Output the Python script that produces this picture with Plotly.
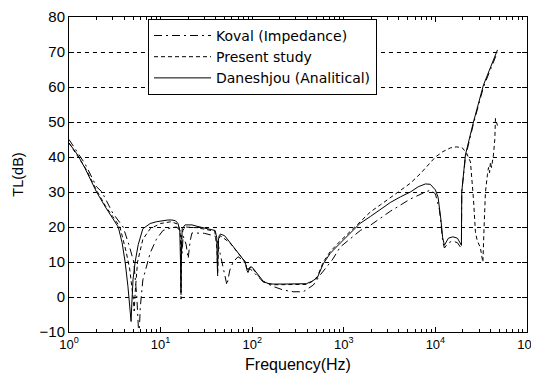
import plotly.graph_objects as go

# Daneshjou (Analitical) - solid
dan_f = [1, 1.25, 1.5, 2, 2.5, 3, 3.45, 3.8, 4.1, 4.4,
         4.65, 4.76, 4.85, 5.0, 5.27, 5.7, 6.4, 7.7, 9, 10.5,
         12, 13.3, 14.5, 15.5, 16.2, 16.5, 16.7, 16.9, 17.2, 18.5,
         22, 25, 30, 35, 39.4, 41, 41.8, 42.6, 43.6, 45,
         50, 57.5, 68, 78, 84, 88, 90, 95, 100, 115,
         132, 150, 169, 220, 300, 390, 450, 514, 597, 712,
         916, 1200, 1500, 1950, 2500, 3220, 4140, 5330, 6500, 7780,
         8800, 10000, 10700, 11060, 11500, 12000, 12540, 13870, 15500, 17400,
         18500, 19230, 19400, 21270, 26030, 33500, 47600]
dan_tl = [44, 40.5, 36.7, 30, 25.7, 22.5, 20, 15.5, 10, 3,
          -4, -7, -2, 5, 10, 15, 19.5, 21, 21.5, 21.8,
          22, 22, 21.8, 21, 19, 10, 1.4, 12, 19.5, 20.6,
          20.6, 20.2, 19.7, 19.3, 19, 17, 7, 16, 17.5, 18,
          17.5, 15.5, 13, 11, 10, 7.5, 7, 8.6, 8.5, 6.5,
          4.5, 3.8, 3.7, 3.7, 3.7, 3.8, 4.5, 5.5, 9.5, 12.5,
          15.4, 18.5, 21, 23, 25, 27, 28.6, 30, 31.5, 32.3,
          32.2, 30.6, 28.5, 25.7, 22, 17, 14.8, 16.8, 17.2, 16.8,
          15.8, 14.8, 30, 40.6, 50, 60.6, 70.6]

# Koval (Impedance) - dash-dot
kov_f = [1, 1.5, 2, 2.29, 3, 3.9, 4.5, 5.1, 5.5, 5.8,
         6.0, 6.4, 7.7, 9, 10.6, 13, 15, 16.2, 16.6, 17.2,
         17.6, 19, 20, 21, 22, 30, 38, 41, 45, 50,
         53, 57, 62, 70, 80, 88, 95, 100, 130, 170,
         218, 280, 361, 464, 553, 748, 916, 1514, 1950, 3220,
         5330, 7780, 8800, 10000, 11060, 11500, 12000, 12540, 13870, 15500,
         17400, 18500, 19230, 19400, 21270, 26030, 33500, 47600]
kov_tl = [45, 38, 31.5, 30, 24, 20, 15, 10, 0, -12,
          -3, 4.9, 12.6, 16.5, 19, 19.8, 20, 19, 18, 12.5,
          17.5, 15, 11, 16, 18.3, 18.2, 17.5, 17, 12, 6,
          3.4, 7.7, 10, 11.5, 10.5, 8, 8, 7.5, 4.5, 3,
          2, 1.5, 1.5, 3.4, 6.3, 10.6, 14.3, 19, 20.5, 24.5,
          28, 30, 30.5, 29.5, 25, 21, 16, 14, 15.5, 16,
          15.5, 14.5, 14, 30, 40, 49.5, 60, 70]

# Present study - dotted
pre_f = [1, 1.5, 2, 2.5, 3, 3.6, 4.2, 4.6, 5.0, 5.15,
         5.3, 5.6, 6.4, 7.7, 10, 13, 15.5, 16.2, 16.5, 16.7,
         16.9, 17.5, 18.5, 25, 39, 41.2, 42, 43, 45, 57,
         68, 84, 88, 95, 100, 132, 169, 300, 390, 450,
         514, 597, 712, 916, 1200, 1500, 1950, 2500, 3220, 4140,
         5330, 7000, 8820, 10000, 12000, 14580, 17000, 19720, 22000, 24140,
         26030, 27350, 28500, 31020, 32650, 33000, 34000, 35190, 36990, 38000,
         39000, 39910, 41000, 43040, 44500, 45270, 47600]
pre_tl = [44, 37, 30.5, 26, 23, 20, 13, 8, 0, -4,
          2, 10, 16.5, 19.5, 21, 21.5, 20.8, 19, 17, -0.6,
          17, 19, 20, 19.8, 18.8, 14, 6, 16.5, 17.5, 15.5,
          13, 10, 7.5, 8.5, 8.3, 4.3, 3.5, 3.5, 3.6, 4.4,
          5.8, 10, 13, 16, 19, 21.5, 24.3, 26.3, 28.3, 30.5,
          32.5, 35.5, 38.5, 40, 41.5, 42.6, 42.9, 42.6, 41, 38.6,
          28, 18.6, 16.3, 14, 10.5, 10, 20, 30, 35, 37,
          35.5, 38.5, 37, 40.6, 45, 51, 49]

x_tickvals = [1, 10, 100, 1000, 10000, 100000]
x_ticktext = ["10<sup>0</sup>", "10<sup>1</sup>", "10<sup>2</sup>",
              "10<sup>3</sup>", "10<sup>4</sup>", "10<sup>5</sup>"]
minor_vals = [m * 10 ** k for k in range(5) for m in range(2, 10)]

fig = go.Figure()
fig.add_trace(go.Scatter(x=kov_f, y=kov_tl, mode="lines", name="Koval (Impedance)",
                         line=dict(color="black", width=1, dash="8px,4px,2px,4px")))
fig.add_trace(go.Scatter(x=pre_f, y=pre_tl, mode="lines", name="Present study",
                         line=dict(color="black", width=1, dash="4px,3px")))
fig.add_trace(go.Scatter(x=dan_f, y=dan_tl, mode="lines", name="Daneshjou (Analitical)",
                         line=dict(color="black", width=1)))

# the page body adds an 8px offset, so the figure is 8px smaller and margins shifted
fig.update_layout(
    width=531, height=370,
    margin=dict(l=61, r=12, t=9, b=46, autoexpand=False),
    plot_bgcolor="white", paper_bgcolor="white",
    font=dict(family="Liberation Sans, Arial, sans-serif", size=14, color="black"),
    showlegend=True,
    legend=dict(x=0.1725, y=0.994, xanchor="left", yanchor="top",
                bgcolor="white", bordercolor="black", borderwidth=1,
                font=dict(size=14, family="DejaVu Sans, Liberation Sans, sans-serif"),
                tracegroupgap=0, itemwidth=57),
)
fig.update_xaxes(
    type="log", range=[0, 5], automargin=False,
    tickmode="array", tickvals=x_tickvals, ticktext=x_ticktext,
    ticks="inside", ticklen=5, tickcolor="black",
    minor=dict(tickmode="array", tickvals=minor_vals, ticks="inside", ticklen=3,
               tickcolor="black", showgrid=False),
    showline=True, linecolor="black", linewidth=1, mirror="allticks",
    showgrid=False, zeroline=False,
    title=dict(text="Frequency(Hz)", font=dict(size=16), standoff=8),
    tickfont=dict(size=13),
)
fig.update_yaxes(
    range=[-10, 80], dtick=10, tick0=0, automargin=False,
    ticks="inside", ticklen=5, tickcolor="black",
    showline=True, linecolor="black", linewidth=1, mirror="allticks",
    showgrid=True, gridcolor="black", gridwidth=1, griddash="4px,4px",
    zeroline=False,
    title=dict(text="TL(dB)", font=dict(size=14.5), standoff=12),
    tickfont=dict(size=15),
)

fig.write_html("out.html")
